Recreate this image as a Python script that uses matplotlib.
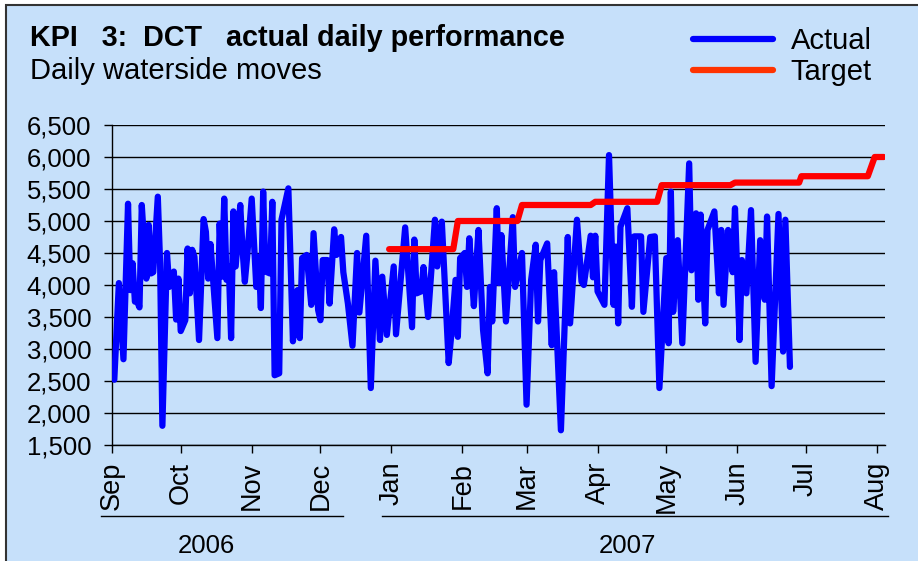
import numpy as np
import matplotlib.pyplot as plt
import matplotlib.dates as mdates
from matplotlib.patches import Rectangle
from matplotlib.ticker import FuncFormatter, MultipleLocator

plt.rcParams["font.family"] = ["Liberation Sans", "DejaVu Sans"]

# day offsets from 1 Sep 2006 and daily waterside moves
start = np.datetime64("2006-09-01")
actual_day = [1, 3, 5, 7, 8, 9, 10, 11, 12, 13, 15, 16, 17, 18, 20, 21, 22, 24, 25, 27,
              28, 29, 30, 32, 33, 34, 35, 36, 38, 40, 41, 42, 43, 46, 47, 48, 49, 50, 51, 52,
              53, 54, 56, 57, 58, 59, 61, 63, 64, 65, 66, 67, 69, 70, 71, 73, 74, 77, 79, 81,
              82, 83, 85, 87, 88, 90, 91, 92, 94, 95, 97, 98, 100, 101, 103, 105, 107, 108, 111, 113,
              115, 117, 118, 120, 123, 124, 128, 131, 132, 133, 135, 136, 138, 141, 142, 144, 147, 148, 150, 151,
              152, 154, 155, 156, 158, 159, 160, 162, 164, 165, 166, 168, 169, 170, 172, 175, 176, 179, 181, 183,
              185, 186, 187, 190, 192, 193, 196, 199, 200, 203, 205, 206, 209, 210, 211, 212, 215, 217, 219, 220,
              221, 222, 225, 227, 228, 231, 232, 235, 237, 239, 242, 243, 244, 245, 247, 249, 252, 253, 255, 256,
              257, 259, 260, 263, 265, 266, 267, 269, 271, 272, 274, 275, 277, 279, 281, 283, 285, 286, 288, 291,
              293, 294, 296]
actual_moves = [2520, 4030, 2840, 5270, 3920, 4340, 3740, 3740, 3650, 5250, 4100, 4940, 4180, 4200, 5380, 4340, 1800, 4500, 3970, 4210,
                3460, 4100, 3280, 3450, 4570, 3870, 4550, 4440, 3140, 5030, 4830, 4100, 4640, 3170, 4960, 4130, 5350, 4080, 4290, 3170,
                5150, 4290, 5250, 4550, 4050, 4440, 5350, 3970, 4440, 3640, 5460, 4210, 4180, 5300, 2590, 2620, 5020, 5510, 3120, 3920,
                3170, 4420, 4470, 3690, 4810, 3610, 3450, 4390, 4390, 3710, 4870, 4470, 4750, 4200, 3710, 3050, 4500, 3570, 4770, 2390,
                4380, 3140, 4130, 3220, 4290, 3230, 4900, 3340, 4710, 3870, 3900, 4280, 3500, 5020, 4290, 4990, 2780, 3170, 4080, 3190,
                4420, 4500, 3970, 4730, 3670, 4280, 4860, 3300, 2620, 3970, 3430, 5200, 4030, 4780, 3430, 5060, 3970, 4500, 2130, 4080,
                4630, 3430, 4390, 4650, 3060, 4200, 1730, 4750, 3400, 5020, 4050, 4000, 4770, 4120, 4770, 3900, 3690, 6030, 3690, 4600,
                3400, 4910, 5200, 3660, 4760, 4760, 3580, 4750, 4760, 2390, 4420, 3090, 5460, 3580, 4700, 3090, 5900, 4230, 5120, 3770,
                5100, 3400, 4860, 5150, 3870, 4860, 3690, 4860, 4200, 5200, 3140, 4390, 3870, 5170, 2800, 4700, 3770, 5070, 2420, 5110,
                2960, 5020, 2720]

target_day = [121, 149, 151, 177, 179, 209, 211, 238, 240, 270, 272, 300, 301, 330, 333, 337]
target_moves = [4560, 4560, 5000, 5000, 5250, 5250, 5300, 5300, 5560, 5560, 5600, 5600, 5700, 5700, 6000, 6000]

years = ["2006", "2007"]
year_span_days = [(-5, 101), (118, 339)]
year_label_day = [41, 225]

bg = "#C6E0FA"
actual_dates = start + np.array(actual_day).astype("timedelta64[D]")
target_dates = start + np.array(target_day).astype("timedelta64[D]")

fig = plt.figure(figsize=(9.18, 5.61), dpi=100, facecolor="white")
fig.patches.append(Rectangle((6 / 918, -0.05), 1.0, 1 - 5 / 561 + 0.05,
                             transform=fig.transFigure, facecolor=bg,
                             edgecolor="#333333", linewidth=1.5, zorder=-10))

ax = fig.add_axes([112 / 918, 1 - 445 / 561, (885 - 112) / 918, 320 / 561])
ax.set_facecolor(bg)
ax.patch.set_alpha(0)

ax.plot(actual_dates, actual_moves, color="#0000FF", lw=4.5, solid_joinstyle="round",
        solid_capstyle="round", label="Actual", zorder=3)
ax.plot(target_dates, target_moves, color="#FF0000", lw=4.5, solid_capstyle="round",
        label="Target", zorder=4)

ax.set_ylim(1500, 6500)
ax.yaxis.set_major_locator(MultipleLocator(500))
ax.yaxis.set_major_formatter(FuncFormatter(lambda v, p: f"{v:,.0f}"))
ax.set_xlim(start, start + np.timedelta64(337 * 24 + 12, "h"))
ax.xaxis.set_major_locator(mdates.MonthLocator())
ax.xaxis.set_major_formatter(mdates.DateFormatter("%b"))

ax.grid(axis="y", color="black", lw=1)
ax.set_axisbelow(True)
for side in ["top", "right"]:
    ax.spines[side].set_visible(False)
for side in ["left", "bottom"]:
    ax.spines[side].set_color("black")
    ax.spines[side].set_linewidth(1)

ax.tick_params(axis="y", length=6, width=1, pad=9, labelsize=18.5)
ax.tick_params(axis="x", length=6, width=1, pad=6, labelsize=19.5, rotation=90)

# year bands under the month labels
trans = ax.get_xaxis_transform()
for label, (d0, d1), dm in zip(years, year_span_days, year_label_day):
    x0 = start + np.timedelta64(d0, "D")
    x1 = start + np.timedelta64(d1, "D")
    ax.plot([x0, x1], [-0.222, -0.222], color="black", lw=1, transform=trans, clip_on=False)
    xm = start + np.timedelta64(dm, "D")
    ax.text(xm, -0.315, label, transform=trans, ha="center", va="center", fontsize=18.5)

fig.text(30 / 918, 1 - 38 / 561, "KPI   3:  DCT   actual daily performance",
         fontsize=20.7, fontweight="bold", va="center")
fig.text(30 / 918, 1 - 71 / 561, "Daily waterside moves", fontsize=21, va="center")

leg = fig.legend(loc="upper left", bbox_to_anchor=(693 / 918, 1 - 27 / 561), frameon=False,
                 fontsize=21, handlelength=2.75, handletextpad=0.6, labelspacing=0.1,
                 borderaxespad=0, borderpad=0)
leg.get_lines()[1].set_color("#FF3300")

fig.savefig("out.png", dpi=100, facecolor="white")
